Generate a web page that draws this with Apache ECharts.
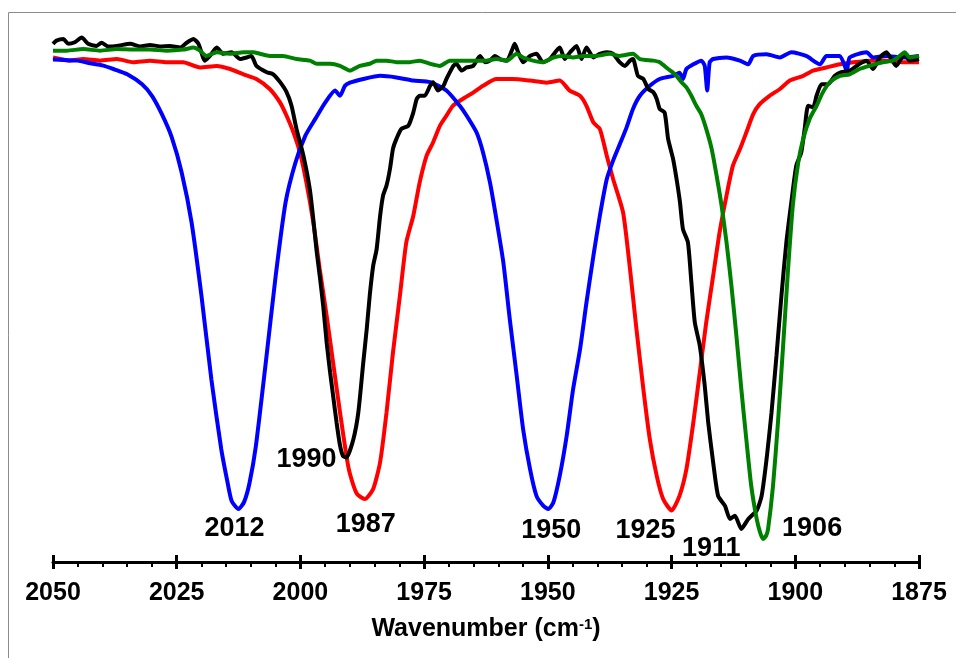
<!DOCTYPE html>
<html>
<head>
<meta charset="utf-8">
<script src="https://cdn.jsdelivr.net/npm/echarts@6/dist/echarts.min.js"></script>
<style>
  html, body { margin: 0; padding: 0; background: #fff; }
  #chart { width: 956px; height: 658px; }
</style>
</head>
<body>
<div id="chart"></div>
<script>
// x-axis: wavenumber (cm-1), reversed; y: transmittance-like (arbitrary, hidden)
const xTickMin = 1875;
const xTickMax = 2050;
const xTickStep = 25;

const blueSpectrum = [[2050,95.7],[2047.5,95.6],[2045,95.5],[2042.5,95.0],[2040,94.6],[2037.5,93.8],[2035,92.9],[2032,91.0],[2030,88.8],[2028,85.3],[2026,80.9],[2024,74.2],[2022,64.7],[2020,50.7],[2018,34.8],[2016,21.5],[2014.8,15.5],[2013.9,11.6],[2012.5,10.1],[2011.4,11.4],[2010.3,15.0],[2009,22.1],[2007,38.0],[2005,54.5],[2003,68.5],[2001,76.1],[1999,81.2],[1997,84.4],[1995,87.5],[1993,89.8],[1992,88.8],[1991,90.7],[1990,91.3],[1987.3,92.0],[1983.9,92.6],[1980.6,92.3],[1977.2,91.7],[1973.8,91.4],[1970.5,89.8],[1967.8,86.9],[1966.4,85.0],[1964.4,81.8],[1963.1,78.0],[1961.7,72.3],[1960.4,65.3],[1959.0,57.1],[1957.7,46.3],[1956.3,35.5],[1955.0,25.3],[1953.6,17.7],[1952.3,12.6],[1950.9,10.7],[1949.9,10.1],[1948.9,11.3],[1947.6,16.4],[1946.2,24.0],[1944.9,32.9],[1943.5,40.5],[1942.2,49.4],[1940.8,58.3],[1939.5,65.9],[1938.1,72.9],[1936.8,76.5],[1935.5,79.5],[1934.2,82.5],[1932.8,86.3],[1931.4,88.8],[1929.4,90.7],[1927.4,92.0],[1924.7,92.6],[1923.4,93.2],[1922.7,92.0],[1922.0,93.9],[1920.6,94.8],[1919.0,95.5],[1918.3,94.5],[1917.8,89.8],[1917.3,95.2],[1916.6,95.8],[1913.9,96.1],[1911.2,95.5],[1909.5,94.8],[1908.5,96.4],[1905.8,96.7],[1903.1,96.1],[1900.8,97.1],[1897.8,96.4],[1895.0,94.8],[1893.7,96.4],[1891.0,96.4],[1889.6,93.6],[1889.0,96.1],[1885.6,97.1],[1884.3,96.1],[1881.6,96.4],[1878.3,96.1],[1875,96.4]];

const redSpectrum = [[2050,96.1],[2046.6,95.5],[2043.9,95.8],[2040.5,95.5],[2037.1,95.8],[2033.8,95.2],[2030.4,95.5],[2027.0,95.2],[2023.7,95.2],[2020.3,94.2],[2016.9,94.5],[2014.2,93.9],[2011.5,92.9],[2008.9,92.0],[2006.2,90.1],[2004.1,87.5],[2002.8,85.0],[2001.4,81.8],[2000.1,78.0],[1998.8,72.3],[1997.4,64.7],[1996.1,55.8],[1994.7,46.9],[1993.4,38.0],[1992.0,28.5],[1990.7,20.2],[1990.0,16.8],[1988.6,13.0],[1987.0,12.0],[1985.3,13.9],[1983.9,19.0],[1982.6,28.5],[1981.3,39.9],[1979.9,50.7],[1978.6,60.9],[1977.2,65.9],[1975.9,72.3],[1974.5,77.4],[1973.2,79.9],[1971.8,83.1],[1970.5,85.0],[1969.2,86.9],[1967.2,88.2],[1965.1,89.4],[1963.1,90.7],[1960.4,92.0],[1957.1,92.0],[1953.6,91.7],[1950.2,91.3],[1947.6,91.7],[1945.6,89.8],[1943.5,88.8],[1942.2,86.9],[1940.8,83.7],[1939.5,82.5],[1938.1,77.4],[1936.8,72.9],[1934.8,66.6],[1933.4,55.8],[1932.1,44.4],[1930.7,32.9],[1929.4,23.4],[1928.0,16.4],[1926.7,12.0],[1925.0,9.8],[1923.4,12.6],[1922.0,17.7],[1920.6,26.6],[1919.3,36.1],[1918.0,45.6],[1916.6,54.5],[1915.3,62.8],[1913.9,69.8],[1912.6,75.5],[1911.2,78.6],[1909.9,81.8],[1908.5,85.3],[1907.2,87.2],[1905.2,88.8],[1903.1,90.1],[1901.1,91.7],[1898.4,92.6],[1896.4,93.6],[1893.7,94.2],[1891.0,94.8],[1888.3,95.2],[1884.9,95.5],[1881.6,95.5],[1878.3,95.2],[1875,95.2]];

const blackSpectrum = [[2050,98.7],[2049.3,99.3],[2047.9,99.6],[2046.9,98.7],[2045.6,99.0],[2044.2,99.9],[2042.9,98.7],[2041.2,98.3],[2040.2,98.9],[2038.8,98.2],[2037.1,98.3],[2034.4,98.7],[2032.4,98.2],[2030.4,98.5],[2028.4,98.2],[2026.4,98.3],[2024.3,98.0],[2023.0,98.9],[2021.6,99.6],[2020.6,98.7],[2019.3,95.5],[2018.3,96.4],[2016.9,98.0],[2015.6,96.8],[2013.9,97.1],[2012.2,95.8],[2010.9,96.1],[2009.9,96.4],[2008.9,94.5],[2006.8,93.3],[2005.5,92.9],[2004.1,91.4],[2002.8,89.5],[2001.8,86.9],[2000.8,82.5],[1999.4,77.4],[1998.1,71.0],[1997.4,65.3],[1996.7,59.0],[1996.1,54.5],[1995.4,48.8],[1994.7,41.8],[1994.0,36.1],[1993.4,31.7],[1992.7,26.6],[1992.0,22.2],[1991.4,20.2],[1990.7,19.9],[1989.3,23.4],[1988.3,28.5],[1987.3,38.0],[1986.6,44.4],[1986.0,50.7],[1985.3,56.4],[1984.6,59.6],[1983.9,65.9],[1983.3,69.8],[1982.6,71.7],[1981.9,74.9],[1981.3,78.7],[1980.6,80.6],[1979.6,82.5],[1978.2,83.1],[1977.2,85.6],[1976.5,88.2],[1975.9,88.8],[1974.9,88.8],[1973.8,90.7],[1973.2,91.4],[1972.2,89.8],[1971.1,90.7],[1970.5,92.0],[1969.1,94.5],[1968.5,94.9],[1967.4,93.6],[1966.4,94.2],[1965.1,94.5],[1963.7,96.4],[1962.7,95.2],[1961.7,95.5],[1960.7,96.4],[1959.7,95.8],[1958.3,95.5],[1957.3,97.4],[1956.7,98.7],[1956.0,97.1],[1955.0,95.2],[1953.6,96.4],[1952.3,96.8],[1951.0,95.2],[1949.6,95.8],[1947.6,98.0],[1946.6,95.8],[1945.5,97.1],[1944.2,98.3],[1943.2,95.8],[1942.2,98.0],[1940.8,96.1],[1939.5,96.8],[1938.1,97.1],[1936.8,96.8],[1935.5,95.2],[1934.4,94.5],[1933.4,95.5],[1932.8,95.8],[1931.8,92.6],[1930.7,92.0],[1929.7,90.1],[1928.7,89.5],[1928.0,88.2],[1927.4,86.3],[1926.4,85.6],[1925.7,80.6],[1924.7,76.8],[1924.0,73.0],[1923.3,68.5],[1922.7,63.4],[1921.7,60.9],[1921.0,53.3],[1920.3,45.6],[1919.3,41.2],[1918.3,33.6],[1917.6,26.6],[1916.6,19.0],[1915.6,12.6],[1914.2,10.7],[1913.2,8.2],[1912.2,8.8],[1910.9,6.3],[1909.5,8.2],[1907.8,9.8],[1906.8,12.6],[1905.8,19.6],[1904.8,28.5],[1903.8,39.3],[1902.8,50.7],[1901.8,60.9],[1900.8,68.5],[1899.8,75.5],[1898.8,78.0],[1898.1,82.5],[1897.4,86.9],[1896.4,86.6],[1895.7,88.8],[1894.7,91.0],[1893.4,91.0],[1892.0,92.6],[1890.7,93.3],[1889.0,93.6],[1887.0,94.9],[1885.6,95.5],[1884.3,93.9],[1882.9,96.1],[1881.6,97.1],[1880.6,95.8],[1879.6,94.5],[1877.9,96.8],[1876.9,95.5],[1875,95.8]];

const greenSpectrum = [[2050,97.4],[2047.2,97.4],[2043.9,97.7],[2040.5,97.4],[2037.1,97.7],[2033.8,97.6],[2030.4,97.6],[2027.0,97.4],[2023.7,97.6],[2021.6,98.0],[2020.3,97.4],[2019.0,96.4],[2016.9,97.1],[2014.2,96.8],[2011.5,97.1],[2009.5,97.1],[2008.2,96.8],[2006.2,96.4],[2003.5,96.4],[2000.8,95.8],[1998.1,95.5],[1996.7,94.9],[1994.0,94.9],[1992.0,94.5],[1990.0,93.6],[1988.0,94.5],[1986.0,94.9],[1984.6,95.5],[1982.6,95.5],[1980.6,95.2],[1977.9,95.2],[1975.9,95.5],[1973.8,94.9],[1971.8,94.5],[1969.8,95.5],[1967.1,95.5],[1964.4,95.5],[1962.4,95.5],[1960.4,95.8],[1958.3,95.5],[1956.3,96.8],[1955.0,96.1],[1953.0,95.5],[1951.0,95.2],[1948.9,96.1],[1946.9,96.4],[1944.9,96.1],[1942.9,96.4],[1940.2,96.4],[1937.5,96.8],[1935.5,96.4],[1932.8,96.8],[1931.4,95.8],[1928.7,95.5],[1927.4,95.2],[1925.7,93.9],[1924.3,92.9],[1923.0,91.4],[1922.0,90.4],[1921.0,88.8],[1920.0,86.9],[1919.0,85.3],[1918.0,82.5],[1916.9,78.7],[1915.9,73.6],[1914.9,67.9],[1913.9,60.9],[1912.9,52.6],[1911.9,43.1],[1910.9,32.9],[1909.9,23.4],[1908.9,14.5],[1907.8,8.2],[1907.1,5.6],[1906.5,4.4],[1905.9,5.0],[1905.5,6.3],[1904.5,14.5],[1903.5,26.6],[1902.5,40.6],[1901.5,55.2],[1900.5,67.9],[1899.4,76.1],[1898.4,80.6],[1897.1,84.4],[1895.7,86.9],[1894.4,89.5],[1893.0,91.4],[1891.0,92.6],[1889.0,92.9],[1887.0,93.9],[1885.0,94.5],[1882.3,95.2],[1880.3,95.5],[1878.9,96.4],[1877.9,97.1],[1876.9,96.1],[1875,96.4]];

// peak wavenumbers annotated for each spectrum
const bluePeaks = [2012, 1950];
const redPeaks = [1987, 1925];
const blackPeaks = [1990, 1911];
const greenPeaks = [1906];

const axisTitle = 'Wavenumber (cm{sup|-1})';

// label offsets (style) relative to each peak minimum, in pixels
const labelOffsets = {
  '2012': [-4, 20], '1950': [3, 22],
  '1987': [1, 26], '1925': [-26, 20],
  '1990': [-40, 2], '1911': [-30, 20],
  '1906': [49, -10]
};

const FONT = "'Liberation Sans', Arial, Helvetica, sans-serif";

function peakMarks(spectrum, peaks) {
  return peaks.map(function (p) {
    let best = null;
    spectrum.forEach(function (pt) {
      if (Math.abs(pt[0] - p) <= 3 && (best === null || pt[1] < best[1])) best = pt;
    });
    return {
      coord: [best[0], best[1]],
      symbol: 'circle',
      symbolSize: 1,
      itemStyle: { color: 'rgba(0,0,0,0)' },
      label: {
        show: true,
        formatter: String(p),
        position: 'inside',
        offset: labelOffsets[String(p)],
        color: '#000',
        fontSize: 27,
        fontWeight: 'bold',
        fontFamily: FONT
      }
    };
  });
}

function lineSeries(name, data, color, peaks) {
  return {
    name: name,
    type: 'line',
    data: data,
    showSymbol: false,
    symbol: 'none',
    smooth: 0.2,
    lineStyle: { color: color, width: 4 },
    itemStyle: { color: color },
    markPoint: { silent: true, animation: false, data: peakMarks(data, peaks) },
    z: 2
  };
}

const chart = echarts.init(document.getElementById('chart'), null, { renderer: 'canvas' });
chart.setOption({
  animation: false,
  backgroundColor: '#fff',
  grid: { left: 53, right: 37, top: 37, bottom: 96, containLabel: false },
  xAxis: [
    {
      type: 'value', min: xTickMin, max: xTickMax, interval: xTickStep, inverse: true,
      position: 'bottom',
      axisLine: { show: true, onZero: false, lineStyle: { color: '#000', width: 3 } },
      axisTick: { show: true, length: 7, lineStyle: { color: '#000', width: 3 } },
      minorTick: { show: true, splitNumber: 5, length: 5, lineStyle: { color: '#000', width: 2 } },
      splitLine: { show: false },
      axisLabel: {
        color: '#000', fontSize: 25, fontWeight: 'bold', fontFamily: FONT, margin: 19,
        formatter: function (v) { return String(v); }
      },
      name: axisTitle,
      nameLocation: 'middle',
      nameGap: 55,
      nameTextStyle: {
        color: '#000', fontSize: 25, fontWeight: 'bold', fontFamily: FONT,
        rich: { sup: { fontSize: 15, fontWeight: 'bold', fontFamily: FONT, color: '#000', verticalAlign: 'top', padding: [0, 0, 10, 0] } }
      }
    },
    {
      type: 'value', min: xTickMin, max: xTickMax, interval: xTickStep, inverse: true,
      position: 'bottom',
      axisLine: { show: false, onZero: false },
      axisTick: { show: true, inside: true, length: 7, lineStyle: { color: '#000', width: 3 } },
      axisLabel: { show: false },
      splitLine: { show: false }
    }
  ],
  yAxis: { type: 'value', min: 0, max: 100, show: false },
  graphic: [{
    type: 'rect', silent: true,
    shape: { x: 8.5, y: 12.5, width: 1000, height: 700 },
    style: { fill: 'none', stroke: '#8c8c8c', lineWidth: 1 }
  }],
  series: [
    lineSeries('red', redSpectrum, '#ff0000', redPeaks),
    lineSeries('blue', blueSpectrum, '#0000ff', bluePeaks),
    lineSeries('black', blackSpectrum, '#000000', blackPeaks),
    lineSeries('green', greenSpectrum, '#008000', greenPeaks)
  ]
});
</script>
</body>
</html>
